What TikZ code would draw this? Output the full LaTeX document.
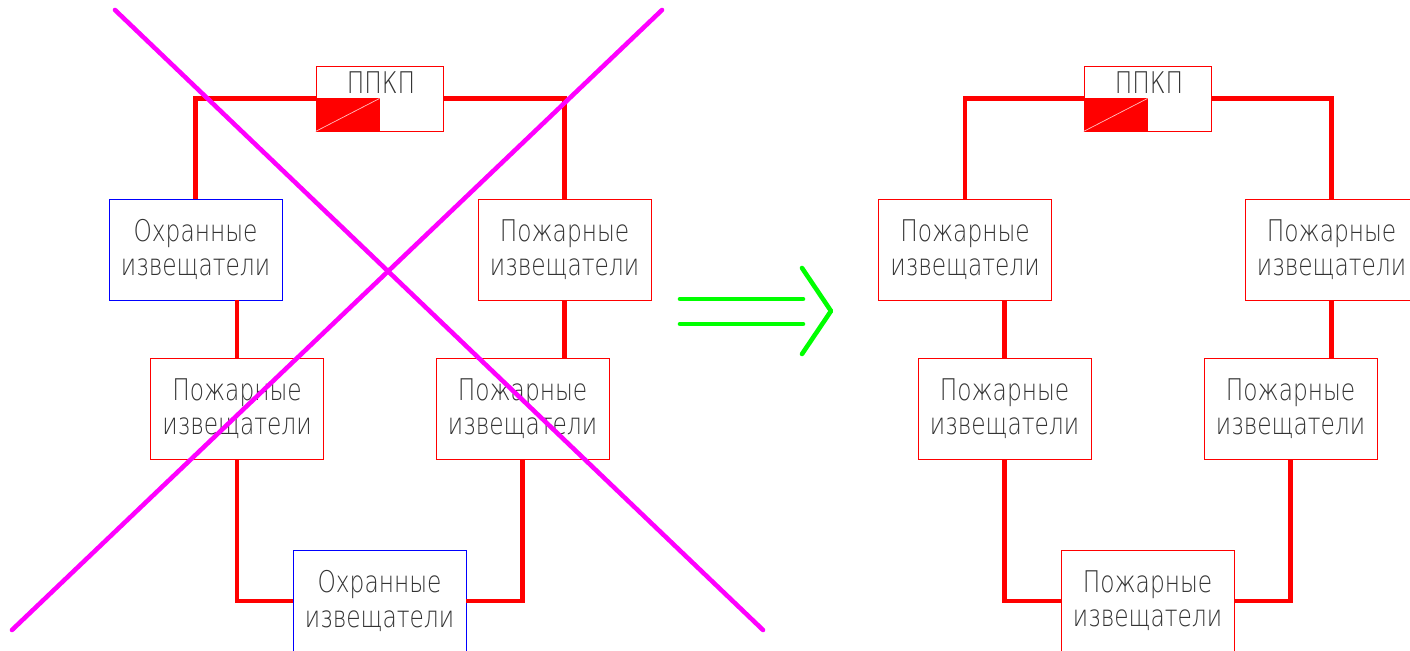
\documentclass[tikz,border=0pt]{standalone}
\usepackage{fontspec}
\newfontfamily\gostfont[FakeStretch=0.78]{DejaVu Sans ExtraLight}
\definecolor{crossmag}{RGB}{255,0,255}
\definecolor{arrowgreen}{RGB}{0,255,0}
\begin{document}
\begin{tikzpicture}[x=0.02cm, y=-0.02cm,
  box/.style={draw=red, line width=0.5pt, minimum width=3.46cm, minimum height=2.02cm, inner sep=0pt, align=center, text=black!80, font=\gostfont\fontsize{17}{19.5}\selectfont},
  ohrbox/.style={box, draw=blue},
  ppkpbox/.style={draw=red, line width=0.5pt, minimum width=2.54cm, minimum height=1.3cm, inner sep=0pt},
  ppkptext/.style={text=black!80, font=\gostfont\fontsize{17}{19.5}\selectfont},
  wire/.style={red, line width=2.7pt},
  cross/.style={crossmag, line width=2.6pt, line cap=round},
  go/.style={arrowgreen, line width=2.6pt, line cap=round, line join=round}]
\useasboundingbox (0,0) rectangle (1410,651);
\clip (0,0) rectangle (1410,651);
\node[ppkpbox] (ppkp0) at (379.5,98.5){};
\fill[red] (ppkp0.south west) rectangle (ppkp0.center);
\draw[red!25, line width=0.4pt] (ppkp0.south west) -- (ppkp0.center);
\node[ppkptext] (ppkp0txt) at (381,82.5){ППКП};
\node[ohrbox] (ohr0) at (195.5,249.5){Охранные\\извещатели};
\node[box] (poz0) at (564.5,249.5){Пожарные\\извещатели};
\node[box] (poz1) at (237,408.5){Пожарные\\извещатели};
\node[box] (poz2) at (522.5,408.5){Пожарные\\извещатели};
\node[ohrbox] (ohr1) at (379.5,601){Охранные\\извещатели};
\draw[wire] (ppkp0.west) -| (ohr0.north);
\draw[wire] (ppkp0.east) -| (poz0.north);
\draw[wire] (poz1.north |- ohr0.south) -- (poz1.north);
\draw[wire] (poz0.south) -- (poz0.south |- poz2.north);
\draw[wire] (poz1.south) |- (ohr1.west);
\draw[wire] (poz2.south) |- (ohr1.east);
\coordinate (cr0a) at (115,10);
\coordinate (cr0b) at (763,630);
\coordinate (cr1a) at (12,630);
\coordinate (cr1b) at (662,10);
\draw[cross] (cr0a) -- (cr0b);
\draw[cross] (cr1a) -- (cr1b);
\coordinate (ar0) at (680,299);
\coordinate (ar1) at (803,299);
\coordinate (ar2) at (680,324);
\coordinate (ar3) at (803,324);
\coordinate (ar4) at (802,268);
\coordinate (ar5) at (831,311);
\coordinate (ar6) at (802,354);
\draw[go] (ar0) -- (ar1);
\draw[go] (ar2) -- (ar3);
\draw[go] (ar4) -- (ar5) -- (ar6);
\node[ppkpbox] (ppkp1) at (1147.5,98.5){};
\fill[red] (ppkp1.south west) rectangle (ppkp1.center);
\draw[red!25, line width=0.4pt] (ppkp1.south west) -- (ppkp1.center);
\node[ppkptext] (ppkp1txt) at (1149,82.5){ППКП};
\node[box] (poz3) at (965,249.5){Пожарные\\извещатели};
\node[box] (poz4) at (1331.5,249.5){Пожарные\\извещатели};
\node[box] (poz5) at (1004.5,408.5){Пожарные\\извещатели};
\node[box] (poz6) at (1290.5,408.5){Пожарные\\извещатели};
\node[box] (poz7) at (1147.5,601){Пожарные\\извещатели};
\draw[wire] (ppkp1.west) -| (poz3.north);
\draw[wire] (ppkp1.east) -| (poz4.north);
\draw[wire] (poz5.north |- poz3.south) -- (poz5.north);
\draw[wire] (poz4.south) -- (poz4.south |- poz6.north);
\draw[wire] (poz5.south) |- (poz7.west);
\draw[wire] (poz6.south) |- (poz7.east);
\end{tikzpicture}
\end{document}
